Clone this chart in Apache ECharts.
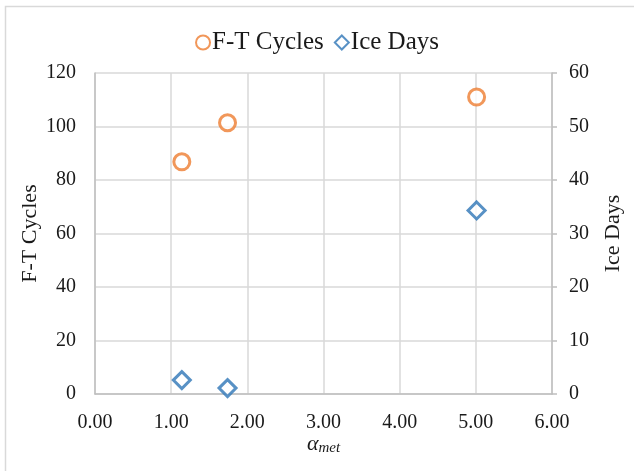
<!DOCTYPE html>
<html><head><meta charset="utf-8">
<script src="https://cdn.jsdelivr.net/npm/echarts@6/dist/echarts.min.js"></script>
<style>html,body{margin:0;padding:0;background:#fff}#c{width:634px;height:471px}</style>
</head><body><div id="c"></div>
<script>
var ftX = [1.14, 1.74, 5.01];
var ftCycles = [86.8, 101.4, 111.0];
var iceX = [1.14, 1.74, 5.01];
var iceDays = [2.6, 1.1, 34.3];
var seriesNames = ['F-T Cycles', 'Ice Days'];
var font = 'Liberation Serif';

var chart = echarts.init(document.getElementById('c'));
chart.setOption({
  animation: false,
  textStyle: {fontFamily: font},
  graphic: [{type: 'rect', shape: {x: 5.5, y: 6.5, width: 700, height: 600}, style: {fill: 'none', stroke: '#d9d9d9', lineWidth: 1.5}, silent: true}],
  legend: {
    top: 25, left: 'center', itemGap: 10, itemWidth: 14, itemHeight: 14,
    textStyle: {fontFamily: font, fontSize: 25, color: '#1a1a1a', padding: [0, 0, 0, -3]},
    data: [{name: seriesNames[0], icon: 'circle'}, {name: seriesNames[1], icon: 'diamond'}]
  },
  grid: {left: 95, right: 82, top: 73, bottom: 77, containLabel: false},
  xAxis: {
    type: 'value', min: 0, max: 6, interval: 1,
    axisLine: {show: true, lineStyle: {color: '#bfbfbf', width: 1.5}},
    axisTick: {show: false},
    splitLine: {show: true, lineStyle: {color: '#d9d9d9', width: 1.5}},
    axisLabel: {formatter: function(v){return v.toFixed(2);}, fontFamily: font, fontSize: 20, color: '#1a1a1a', margin: 19},
    name: '{a|α}{s|met}', nameLocation: 'middle', nameGap: 38, nameMoveOverlap: false,
    nameTextStyle: {rich: {a: {fontFamily: font, fontSize: 22, fontStyle: 'italic', color: '#1a1a1a'}, s: {fontFamily: font, fontSize: 15, fontStyle: 'italic', color: '#1a1a1a', verticalAlign: 'bottom', padding: [9, 0, 0, 0]}}}
  },
  yAxis: [{
    type: 'value', min: 0, max: 120, interval: 20,
    axisLine: {show: true, lineStyle: {color: '#bfbfbf', width: 1.5}},
    axisTick: {show: false},
    splitLine: {show: true, lineStyle: {color: '#d9d9d9', width: 1.5}},
    axisLabel: {fontFamily: font, fontSize: 20, color: '#1a1a1a', margin: 19},
    name: 'F-T Cycles', nameLocation: 'middle', nameGap: 54, nameRotate: 90, nameMoveOverlap: false,
    nameTextStyle: {fontFamily: font, fontSize: 22, color: '#1a1a1a'}
  }, {
    type: 'value', min: 0, max: 60, interval: 10, position: 'right',
    axisLine: {show: true, lineStyle: {color: '#bfbfbf', width: 1.5}},
    axisTick: {show: true, length: 5, lineStyle: {color: '#bfbfbf', width: 1.5}},
    splitLine: {show: false},
    axisLabel: {fontFamily: font, fontSize: 20, color: '#1a1a1a', margin: 17},
    name: 'Ice Days', nameLocation: 'middle', nameGap: 50, nameRotate: 90,
    nameTextStyle: {fontFamily: font, fontSize: 22, color: '#1a1a1a'}
  }],
  series: [{
    name: seriesNames[0], type: 'scatter', yAxisIndex: 0, symbol: 'circle', symbolSize: 16,
    itemStyle: {color: '#fff', borderColor: '#ED7D31', borderWidth: 3},
    data: ftX.map(function(x, i){return [x, ftCycles[i]];})
  }, {
    name: seriesNames[1], type: 'scatter', yAxisIndex: 1, symbol: 'diamond', symbolSize: 17,
    itemStyle: {color: '#fff', borderColor: '#2E75B6', borderWidth: 3},
    data: iceX.map(function(x, i){return [x, iceDays[i]];})
  }]
});
</script></body></html>
